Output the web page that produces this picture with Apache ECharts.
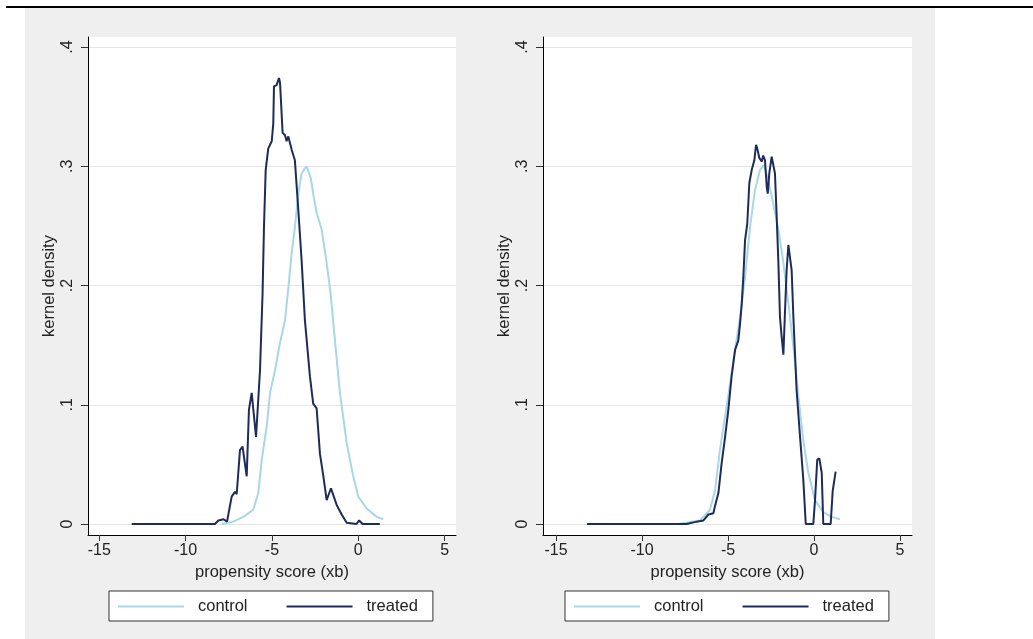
<!DOCTYPE html>
<html>
<head>
<meta charset="utf-8">
<script src="https://cdn.jsdelivr.net/npm/echarts@6/dist/echarts.min.js"></script>
<style>
  html, body { margin: 0; padding: 0; background: #fff; }
  #chart { width: 1033px; height: 639px; }
</style>
</head>
<body>
<div id="chart"></div>
<script>
// tick values on both panels
const X_TICKS = [-15, -10, -5, 0, 5]
const Y_TICKS = [0, 0.1, 0.2, 0.3, 0.4]
const SERIES_NAMES = ['control', 'treated']

// left panel: before matching
const leftControl = [
  [-7.9, 0], [-7.24, 0.002], [-6.66, 0.006], [-6.08, 0.012], [-5.79, 0.026], [-5.59, 0.054],
  [-5.3, 0.082], [-5.11, 0.11], [-4.82, 0.129], [-4.53, 0.152], [-4.24, 0.171], [-4.04, 0.199],
  [-3.86, 0.227], [-3.67, 0.249], [-3.47, 0.277], [-3.28, 0.294], [-3.1, 0.298], [-2.99, 0.3],
  [-2.9, 0.299], [-2.75, 0.29], [-2.61, 0.277], [-2.41, 0.261], [-2.12, 0.247], [-1.83, 0.219],
  [-1.6, 0.193], [-1.35, 0.154], [-1.06, 0.11], [-0.67, 0.068], [-0.29, 0.04], [0, 0.023],
  [0.49, 0.013], [1.07, 0.006], [1.45, 0.004]
]
const leftTreated = [
  [-13.12, 0], [-8.3, 0], [-8.1, 0.003], [-7.8, 0.004], [-7.6, 0.002], [-7.53, 0.001],
  [-7.33, 0.023], [-7.14, 0.027], [-7.04, 0.025], [-6.85, 0.062], [-6.7, 0.065], [-6.46, 0.04],
  [-6.33, 0.096], [-6.17, 0.11], [-5.92, 0.073], [-5.69, 0.129], [-5.54, 0.194], [-5.46, 0.249],
  [-5.36, 0.297], [-5.21, 0.315], [-5.01, 0.321], [-4.92, 0.336], [-4.88, 0.367], [-4.73, 0.368],
  [-4.59, 0.374], [-4.53, 0.37], [-4.38, 0.328], [-4.24, 0.326], [-4.15, 0.321], [-4.05, 0.325],
  [-3.86, 0.314], [-3.67, 0.305], [-3.47, 0.263], [-3.28, 0.221], [-3.09, 0.171], [-2.8, 0.124],
  [-2.61, 0.101], [-2.41, 0.097], [-2.22, 0.059], [-2.02, 0.04], [-1.83, 0.02], [-1.58, 0.03],
  [-1.51, 0.027], [-1.25, 0.016], [-0.96, 0.008], [-0.67, 0.001], [-0.1, 0], [0.05, 0.003],
  [0.25, 0], [1.25, 0]
]

// right panel: after matching
const rightControl = [
  [-7.9, 0], [-6.63, 0.003], [-6.05, 0.012], [-5.76, 0.028], [-5.47, 0.062], [-5.17, 0.09],
  [-4.88, 0.118], [-4.59, 0.146], [-4.3, 0.174], [-4.01, 0.207], [-3.72, 0.249], [-3.43, 0.28],
  [-3.14, 0.297], [-2.91, 0.301], [-2.66, 0.288], [-2.37, 0.269], [-2.07, 0.247], [-1.78, 0.219],
  [-1.49, 0.185], [-1.2, 0.149], [-0.91, 0.107], [-0.62, 0.07], [-0.33, 0.043], [0.06, 0.02],
  [0.54, 0.01], [1.03, 0.006], [1.51, 0.004]
]
const rightTreated = [
  [-13.2, 0], [-7.4, 0], [-6.82, 0.002], [-6.43, 0.003], [-6.14, 0.008], [-6.05, 0.009],
  [-5.85, 0.009], [-5.76, 0.015], [-5.56, 0.026], [-5.37, 0.051], [-5.17, 0.073], [-4.98, 0.096],
  [-4.79, 0.124], [-4.59, 0.146], [-4.4, 0.154], [-4.3, 0.168], [-4.2, 0.185], [-4.11, 0.207],
  [-4.01, 0.238], [-3.88, 0.252], [-3.76, 0.286], [-3.62, 0.297], [-3.47, 0.305], [-3.37, 0.318],
  [-3.3, 0.315], [-3.18, 0.307], [-3.04, 0.304], [-2.95, 0.309], [-2.85, 0.305], [-2.75, 0.283],
  [-2.69, 0.277], [-2.6, 0.294], [-2.46, 0.308], [-2.4, 0.309], [-2.27, 0.294], [-2.17, 0.258],
  [-2.07, 0.219], [-1.98, 0.174], [-1.88, 0.157], [-1.78, 0.142], [-1.69, 0.177], [-1.59, 0.213],
  [-1.49, 0.234], [-1.4, 0.233], [-1.3, 0.213], [-1.2, 0.174], [-1.01, 0.112], [-0.81, 0.073],
  [-0.62, 0.037], [-0.48, 0], [-0.04, 0], [0.06, 0.02], [0.19, 0.054], [0.31, 0.055],
  [0.45, 0.043], [0.54, 0], [0.97, 0], [1.09, 0.028], [1.26, 0.044]
]

const FONT = 'Liberation Sans, Arial, sans-serif'
const TEXT = '#222'
const CONTROL_COLOR = '#a8d7e5'
const TREATED_COLOR = '#1d2c58'

let makeXAxis = (gridIndex, min, max) => ({
  type: 'value',
  gridIndex: gridIndex,
  min: min,
  max: max,
  name: 'propensity score (xb)',
  nameLocation: 'middle',
  nameGap: 26,
  nameTextStyle: { fontFamily: FONT, fontSize: 16.5, color: TEXT },
  axisLine: { onZero: false, lineStyle: { color: '#000', width: 1 } },
  axisTick: { customValues: X_TICKS, length: 6, lineStyle: { color: '#333' } },
  axisLabel: { customValues: X_TICKS, fontFamily: FONT, fontSize: 16, color: TEXT, margin: 8 },
  splitLine: { show: false }
})

let makeYAxis = (gridIndex) => ({
  type: 'value',
  gridIndex: gridIndex,
  min: -0.0092,
  max: 0.4084,
  name: 'kernel density',
  nameLocation: 'middle',
  nameGap: 30,
  nameRotate: 90,
  nameTextStyle: { fontFamily: FONT, fontSize: 16.5, color: TEXT },
  axisLine: { show: true, onZero: false, lineStyle: { color: '#000', width: 1 } },
  axisTick: { show: true, customValues: Y_TICKS, length: 7, lineStyle: { color: '#333' } },
  axisLabel: {
    customValues: Y_TICKS,
    rotate: 90,
    margin: 12,
    fontFamily: FONT,
    fontSize: 16,
    color: TEXT,
    formatter: v => (v === 0 ? '0' : String(v).replace(/^0/, ''))
  },
  splitLine: { show: true, lineStyle: { color: '#e6e6e6', width: 1 } }
})

let makeLine = (name, data, idx, color) => ({
  name: name,
  type: 'line',
  xAxisIndex: idx,
  yAxisIndex: idx,
  data: data,
  showSymbol: false,
  symbol: 'none',
  animation: false,
  lineStyle: { color: color, width: 2 },
  itemStyle: { color: color }
})

// legend keys drawn as plain line samples, no marker
let makeLegend = (left) => ({
  data: SERIES_NAMES.map(n => ({ name: n, icon: 'rect' })),
  left: left,
  top: 591,
  orient: 'horizontal',
  itemWidth: 66,
  itemHeight: 2,
  itemGap: 39,
  padding: [7, 15, 6, 9],
  backgroundColor: '#fff',
  borderColor: '#333',
  borderWidth: 1,
  borderRadius: 0,
  selectedMode: false,
  textStyle: { fontFamily: FONT, fontSize: 16.5, color: TEXT, padding: [0, 0, 0, 9] }
})

let echart = echarts.init(document.getElementById('chart'), null, { renderer: 'canvas' })

echart.setOption({
  backgroundColor: '#fff',
  animation: false,
  graphic: [
    { type: 'rect', z: -100, shape: { x: 25, y: 8, width: 910, height: 631 }, style: { fill: '#efefef' } },
    { type: 'rect', z: -100, shape: { x: 6, y: 6, width: 1027, height: 2 }, style: { fill: '#000' } }
  ],
  grid: [
    { left: 88, top: 37, width: 368, height: 498, show: true, backgroundColor: '#fff', borderWidth: 0 },
    { left: 543, top: 37, width: 369, height: 498, show: true, backgroundColor: '#fff', borderWidth: 0 }
  ],
  xAxis: [makeXAxis(0, -15.65, 5.66), makeXAxis(1, -15.76, 5.7)],
  yAxis: [makeYAxis(0), makeYAxis(1)],
  legend: [makeLegend(109), makeLegend(565)],
  series: [
    makeLine('control', leftControl, 0, CONTROL_COLOR),
    makeLine('treated', leftTreated, 0, TREATED_COLOR),
    makeLine('control', rightControl, 1, CONTROL_COLOR),
    makeLine('treated', rightTreated, 1, TREATED_COLOR)
  ]
})
</script>
</body>
</html>
